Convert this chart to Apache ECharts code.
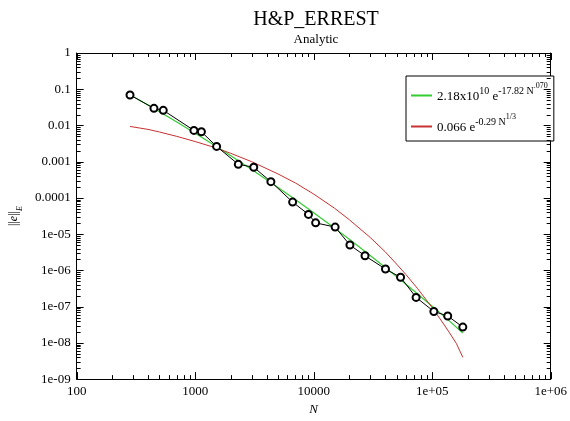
<!DOCTYPE html>
<html>
<head>
<meta charset="utf-8">
<script src="https://cdn.jsdelivr.net/npm/echarts@6/dist/echarts.min.js"></script>
<style>
html,body{margin:0;padding:0;background:#fff;}
#c{width:570px;height:421px;}
</style>
</head>
<body>
<div id="c"></div>
<script>
// ---- data ----
const nValues = [282, 449, 538, 976, 1129, 1517, 2312, 3121, 4355, 6645, 9036, 10390, 15170, 20220, 27120, 40350, 54100, 73150, 103300, 135200, 181300];
const errValues = [0.0694, 0.0297, 0.0262, 0.0073, 0.00669, 0.00264, 0.000847, 0.000703, 0.000281, 7.68e-5, 3.51e-5, 2.05e-5, 1.57e-5, 5.01e-6, 2.53e-6, 1.09e-6, 6.46e-7, 1.80e-7, 7.36e-8, 5.53e-8, 2.73e-8];

const greenN = [282, 400, 500, 700, 1000, 1500, 2000, 3000, 5000, 7000, 10000, 15000, 20000, 30000, 50000, 70000, 100000, 140000, 181300];
const greenValues = [0.070, 0.0369, 0.0240, 0.0125, 0.00613, 0.00267, 0.00145, 6.08e-4, 1.95e-4, 9.04e-5, 3.91e-5, 1.47e-5, 7.22e-6, 2.59e-6, 6.81e-7, 2.75e-7, 1.03e-7, 3.99e-8, 1.87e-8];

const redN = [282, 400, 500, 700, 1000, 1500, 2000, 3000, 5000, 7000, 10000, 15000, 20000, 30000, 40000, 50000, 60000, 75000, 100000, 125000, 140000, 160000, 181300];
const redValues = [0.0094, 0.0078, 0.0066, 0.0050, 0.0036, 0.0024, 0.0017, 0.0010, 4.6e-4, 2.6e-4, 1.28e-4, 5.2e-5, 2.5e-5, 8.1e-6, 3.3e-6, 1.5e-6, 7.7e-7, 3.2e-7, 9.4e-8, 3.3e-8, 1.9e-8, 9.6e-9, 4.0e-9];

const xTickLabels = {2: '100', 3: '1000', 4: '10000', 5: '1e+05', 6: '1e+06'};
const yTickLabels = {0: '1', '-1': '0.1', '-2': '0.01', '-3': '0.001', '-4': '0.0001', '-5': '1e-05', '-6': '1e-06', '-7': '1e-07', '-8': '1e-08', '-9': '1e-09'};

const seriesNames = ['green', 'red'];
const legendLabels = {
  green: '{b|2.18x10}{s1|10}{b| e}{s1|-17.82 N}{s2|.070}',
  red: '{b|0.066 e}{s1|-0.29 N}{s2|1/3}'
};

const GREEN = '#33cc33', RED = '#c83232';
const X_MIN = 100, X_MAX = 1e6, Y_MIN = 1e-9, Y_MAX = 1;
const FONT = 'Liberation Serif';

const chart = echarts.init(document.getElementById('c'), null, {renderer: 'canvas'});

function makeX(pos, showLabel) {
  const a = {
    type: 'log', logBase: 10, min: X_MIN, max: X_MAX, interval: 1, position: pos,
    axisLine: {show: true, lineStyle: {color: '#000', width: 1}},
    axisTick: {show: false},
    splitLine: {show: false},
    axisLabel: {show: false}
  };
  if (showLabel) {
    a.name = 'N'; a.nameLocation = 'middle'; a.nameGap = 18;
    a.nameTextStyle = {fontFamily: FONT, fontSize: 13, fontStyle: 'italic', color: '#000'};
    a.axisLabel = {show: true, fontFamily: FONT, fontSize: 13, color: '#000', margin: 6,
      formatter: v => xTickLabels[Math.round(Math.log10(v))] || ''};
  }
  return a;
}
function makeY(pos, showLabel) {
  const a = {
    type: 'log', logBase: 10, min: Y_MIN, max: Y_MAX, interval: 1, position: pos,
    axisLine: {show: true, lineStyle: {color: '#000', width: 1}},
    axisTick: {show: false},
    splitLine: {show: false},
    axisLabel: {show: false}
  };
  if (showLabel) {
    a.name = '{n|||}{i|e}{n|||}{sub|E}'; a.nameLocation = 'middle'; a.nameRotate = 90; a.nameGap = 48;
    a.nameTextStyle = {
      fontFamily: FONT, fontSize: 12, color: '#000',
      rich: {
        n: {fontFamily: FONT, fontSize: 12, lineHeight: 16, verticalAlign: 'top', color: '#000'},
        i: {fontFamily: FONT, fontSize: 12, fontStyle: 'italic', lineHeight: 16, verticalAlign: 'top', color: '#000'},
        sub: {fontFamily: FONT, fontSize: 8, fontStyle: 'italic', lineHeight: 10, verticalAlign: 'top', padding: [8, 0, 0, 0], color: '#000'}
      }
    };
    a.axisLabel = {show: true, fontFamily: FONT, fontSize: 13, color: '#000', margin: 6,
      formatter: v => yTickLabels[Math.round(Math.log10(v))] || ''};
  }
  return a;
}

const option = {
  animation: false,
  backgroundColor: '#fff',
  textStyle: {fontFamily: FONT, color: '#000'},
  title: {
    text: 'H&P_ERREST',
    subtext: 'Analytic',
    left: 311,
    textAlign: 'center',
    top: 5,
    itemGap: 3,
    textStyle: {fontFamily: FONT, fontSize: 20, fontWeight: 'normal', color: '#000'},
    subtextStyle: {fontFamily: FONT, fontSize: 13, color: '#000'}
  },
  legend: {
    data: seriesNames,
    orient: 'vertical',
    left: 406,
    top: 76,
    padding: [6, 6, 7, 5],
    itemGap: 10,
    itemWidth: 21,
    itemHeight: 2,
    icon: 'rect',
    borderColor: '#000',
    borderWidth: 1,
    borderRadius: 0,
    backgroundColor: '#fff',
    formatter: name => legendLabels[name],
    textStyle: {
      fontFamily: FONT, fontSize: 13, color: '#000',
      rich: {
        b: {fontFamily: FONT, fontSize: 13, lineHeight: 15, verticalAlign: 'bottom', color: '#000'},
        s1: {fontFamily: FONT, fontSize: 10, lineHeight: 11, verticalAlign: 'bottom', padding: [0, 0, 7, 0], color: '#000'},
        s2: {fontFamily: FONT, fontSize: 8, lineHeight: 9, verticalAlign: 'bottom', padding: [0, 0, 13, 0], color: '#000'}
      }
    }
  },
  grid: {left: 71, right: 19, top: 53, bottom: 34, containLabel: false},
  xAxis: [makeX('bottom', true), makeX('top', false)],
  yAxis: [makeY('left', true), makeY('right', false)],
  series: [
    {
      name: 'data', type: 'line', z: 4,
      data: nValues.map((n, i) => [n, errValues[i]]),
      symbol: 'emptyCircle', symbolSize: 7, showSymbol: true,
      lineStyle: {color: '#000', width: 1},
      itemStyle: {color: '#000', borderColor: '#000', borderWidth: 0.9}
    },
    {
      name: 'green', type: 'line', z: 3,
      data: greenN.map((n, i) => [n, greenValues[i]]),
      symbol: 'none',
      itemStyle: {color: GREEN},
      lineStyle: {color: GREEN, width: 1.2}
    },
    {
      name: 'red', type: 'line', z: 3,
      data: redN.map((n, i) => [n, redValues[i]]),
      symbol: 'none',
      itemStyle: {color: RED},
      lineStyle: {color: RED, width: 1}
    }
  ]
};
chart.setOption(option);

// ---- axis ticks (major + log minor) positioned through the chart's own scales ----
const elements = [];
function seg(x1, y1, x2, y2) {
  elements.push({type: 'line', silent: true, z: 20,
    shape: {x1: x1, y1: y1, x2: x2, y2: y2},
    style: {stroke: '#000', lineWidth: 1}});
}
const MAJ = 7, MIN = 4;
for (let d = 2; d <= 6; d++) {
  for (let k = 1; k <= 9; k++) {
    if (d === 6 && k > 1) break;
    const v = k * Math.pow(10, d);
    const b = chart.convertToPixel({gridIndex: 0}, [v, Y_MIN]);
    const t = chart.convertToPixel({gridIndex: 0}, [v, Y_MAX]);
    const x = Math.round(b[0]) + 0.5;
    const len = k === 1 ? MAJ : MIN;
    seg(x, b[1], x, b[1] - len);
    seg(x, t[1], x, t[1] + len);
  }
}
for (let d = -9; d <= 0; d++) {
  for (let k = 1; k <= 9; k++) {
    if (d === 0 && k > 1) break;
    const v = k * Math.pow(10, d);
    const l = chart.convertToPixel({gridIndex: 0}, [X_MIN, v]);
    const r = chart.convertToPixel({gridIndex: 0}, [X_MAX, v]);
    const y = Math.round(l[1]) + 0.5;
    const len = k === 1 ? MAJ : MIN;
    seg(l[0], y, l[0] + len, y);
    seg(r[0], y, r[0] - len, y);
  }
}
chart.setOption({graphic: {elements: elements}});
</script>
</body>
</html>
